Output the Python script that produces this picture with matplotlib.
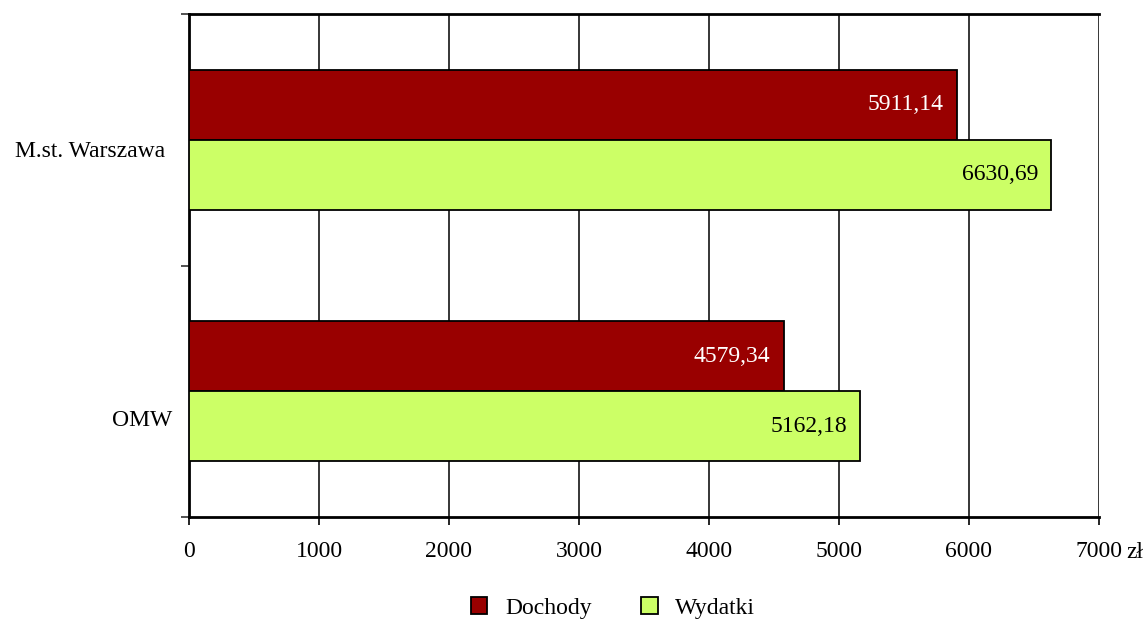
import matplotlib.pyplot as plt
import numpy as np

# Data
regions = ['OMW', 'M.st. Warszawa']
dochody = [4579.34, 5911.14]
wydatki = [5162.18, 6630.69]
xticks = [0, 1000, 2000, 3000, 4000, 5000, 6000, 7000]

plt.rcParams['font.family'] = ['Liberation Serif', 'DejaVu Serif']

fig = plt.figure(figsize=(11.48, 6.22), dpi=100)
ax = fig.add_axes([189 / 1148, 1 - 517 / 622, 910 / 1148, 503 / 622])

y = np.arange(len(regions)) + 0.5
h = 0.278

ax.barh(y + h / 2, dochody, h, color='#990000', edgecolor='black', linewidth=1.3,
        label='Dochody', zorder=3)
ax.barh(y - h / 2, wydatki, h, color='#CCFF66', edgecolor='black', linewidth=1.3,
        label='Wydatki', zorder=3)

# value labels inside bar ends
for yi, v in zip(y, dochody):
    ax.annotate(f'{v:.2f}'.replace('.', ','), (v, yi + h / 2), xytext=(-14, 0),
                textcoords='offset pixels', ha='right', va='center',
                color='white', fontsize=17, zorder=4)
for yi, v in zip(y, wydatki):
    ax.annotate(f'{v:.2f}'.replace('.', ','), (v, yi - h / 2), xytext=(-13, 0),
                textcoords='offset pixels', ha='right', va='center',
                color='black', fontsize=17, zorder=4)

ax.set_xlim(0, 7000)
ax.set_ylim(0, 2)
ax.set_xticks(xticks)
ax.set_xticklabels([str(t) for t in xticks], fontsize=17)
ax.set_yticks([0, 1, 2])
ax.set_yticklabels([])
ax.tick_params(axis='x', length=6, width=1.2, pad=11, direction='out')
ax.tick_params(axis='y', length=6, width=1.2, direction='out', color='#333333')
ax.grid(axis='x', color='black', linewidth=1.1, zorder=1)

for s in ['left', 'bottom', 'top']:
    ax.spines[s].set_linewidth(2)
ax.spines['right'].set_visible(False)

# category labels
ax.annotate('M.st. Warszawa', (0, 1.5), xytext=(-24, -12), textcoords='offset pixels',
            xycoords=('axes fraction', 'data'), ha='right', va='center', fontsize=17)
ax.annotate('OMW', (0, 0.5), xytext=(-17, -29), textcoords='offset pixels',
            xycoords=('axes fraction', 'data'), ha='right', va='center', fontsize=17)

# unit after last tick
ax.annotate('zł', (7000, 0), xytext=(27, -36), textcoords='offset pixels',
            ha='left', va='center', fontsize=17, annotation_clip=False)

fig.legend(loc='center', bbox_to_anchor=(613 / 1148, 1 - 608 / 622), ncol=2,
           frameon=False, fontsize=17, handlelength=0.7, handleheight=0.7,
           columnspacing=2.1, handletextpad=0.75)

plt.savefig('out.png', dpi=100)
